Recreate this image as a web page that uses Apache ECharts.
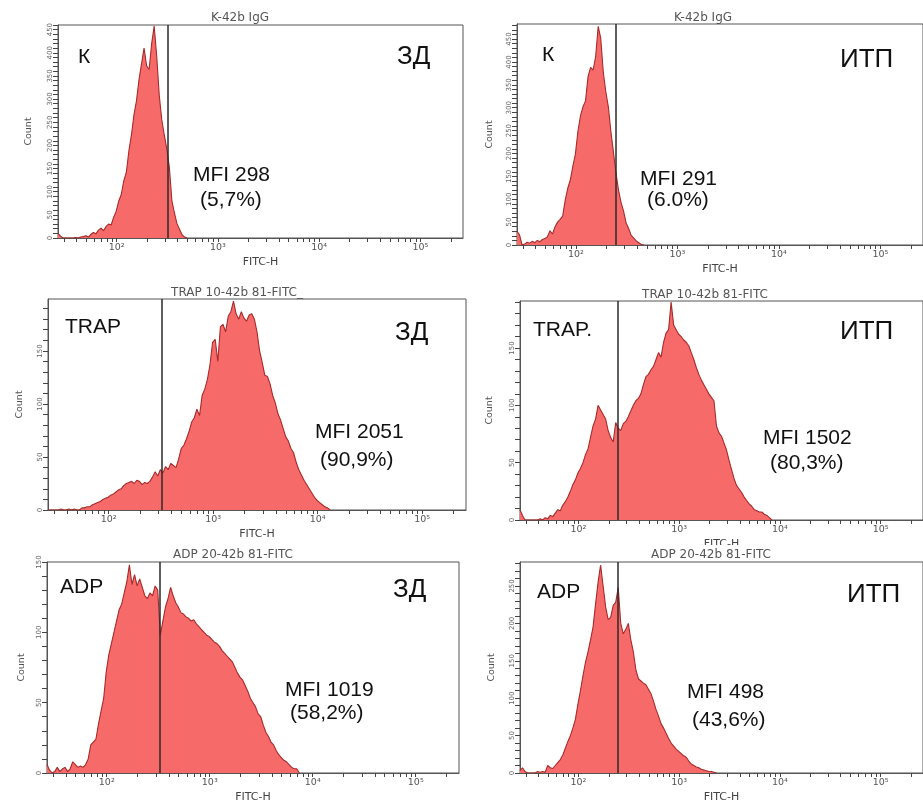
<!DOCTYPE html>
<html>
<head>
<meta charset="utf-8">
<title>FITC-H histograms</title>
<script src="https://cdn.jsdelivr.net/npm/echarts@6/dist/echarts.min.js"></script>
<style>
  html, body { margin: 0; padding: 0; background: #fff; }
  #chart { width: 923px; height: 804px; }
</style>
</head>
<body>
<div id="chart"></div>
<script>
// histogram bins: x = log10(FITC-H), first bin at binStart, step binStep
var binStart = 1.42;
var binStep = 0.025;
var xMin = 1.42, xMax = 5.42;

var countsK_ZD = [10, 4, 0, 0, 0, 0, 0, 1, 0, 2, 3, 5, 2, 8, 12, 9, 17, 21, 16, 25, 30, 28, 45, 58, 80, 94, 124, 142, 188, 222, 266, 296, 342, 376, 410, 372, 364, 420, 458, 392, 308, 255, 222, 192, 152, 80, 54, 31, 19, 7, 2, 0];
var countsK_ITP = [30, 22, 0, 2, 6, 4, 8, 5, 10, 7, 12, 14, 18, 31, 24, 40, 50, 56, 63, 98, 124, 142, 172, 198, 248, 282, 302, 315, 368, 388, 382, 412, 478, 452, 378, 335, 302, 248, 203, 158, 120, 93, 74, 48, 36, 21, 15, 9, 5, 1, 0];
var countsTRAP_ZD = [0, 0, 0, 0, 0, 1, 0, 0, 1, 0, 1, 0, 0, 2, 2, 3, 3, 5, 6, 7, 8, 10, 11, 12, 14, 15, 17, 19, 20, 23, 25, 26, 27, 25, 28, 27, 24, 26, 25, 27, 31, 36, 32, 38, 35, 41, 38, 44, 42, 40, 48, 58, 61, 67, 74, 83, 87, 95, 89, 108, 114, 123, 137, 158, 161, 140, 173, 175, 168, 183, 187, 197, 185, 180, 187, 181, 178, 184, 185, 180, 168, 150, 139, 127, 126, 119, 108, 101, 91, 85, 77, 69, 65, 58, 54, 45, 38, 33, 28, 24, 20, 16, 12, 9, 7, 5, 3, 2, 0];
var countsTRAP_ITP = [9, 4, 0, 0, 0, 0, 0, 0, 1, 0, 2, 1, 4, 3, 6, 9, 8, 13, 16, 20, 25, 31, 35, 41, 45, 50, 57, 62, 72, 82, 88, 100, 96, 92, 88, 78, 72, 68, 85, 80, 78, 84, 86, 90, 95, 100, 104, 106, 110, 118, 125, 127, 131, 134, 140, 146, 142, 155, 163, 166, 190, 170, 166, 162, 160, 157, 155, 152, 146, 140, 133, 127, 122, 118, 114, 110, 107, 104, 82, 76, 73, 67, 61, 52, 44, 36, 30, 27, 24, 20, 17, 14, 12, 9, 8, 7, 7, 5, 4, 2, 0];
var countsADP_ZD = [6, 2, 0, 1, 4, 1, 3, 4, 1, 3, 8, 6, 4, 5, 4, 6, 10, 20, 22, 24, 35, 44, 53, 72, 84, 92, 100, 108, 116, 120, 128, 136, 148, 134, 141, 133, 138, 132, 126, 124, 128, 126, 133, 130, 98, 108, 118, 124, 132, 126, 121, 118, 114, 113, 111, 110, 108, 109, 106, 104, 102, 100, 98, 97, 95, 93, 92, 90, 87, 85, 83, 81, 79, 75, 71, 68, 66, 62, 58, 53, 50, 47, 42, 40, 34, 29, 26, 22, 20, 16, 13, 11, 9, 8, 6, 4, 3, 3, 0];
var countsADP_ITP = [3, 7, 2, 0, 0, 0, 0, 2, 1, 2, 1, 10, 7, 6, 10, 14, 18, 24, 33, 42, 50, 60, 72, 92, 110, 130, 148, 162, 178, 195, 226, 255, 278, 250, 222, 205, 208, 224, 228, 248, 200, 186, 192, 200, 178, 162, 138, 126, 123, 120, 118, 112, 106, 96, 85, 76, 66, 60, 53, 46, 40, 36, 32, 29, 26, 23, 21, 16, 12, 10, 8, 7, 5, 4, 3, 2, 2, 1, 0];

// gate (marker) position, FITC-H units
var gates = [319, 247, 322, 244, 320, 246];

var panelTitles = ["K-42b IgG", "K-42b IgG", "TRAP 10-42b 81-FITC_", "TRAP 10-42b 81-FITC", "ADP 20-42b 81-FITC", "ADP 20-42b 81-FITC"];
var stimLabels = ["К", "К", "TRAP", "TRAP.", "ADP", "ADP"];
var groupLabels = ["ЗД", "ИТП", "ЗД", "ИТП", "ЗД", "ИТП"];
var mfiLabels = ["MFI 298", "MFI 291", "MFI 2051", "MFI 1502", "MFI 1019", "MFI 498"];
var pctLabels = ["(5,7%)", "(6.0%)", "(90,9%)", "(80,3%)", "(58,2%)", "(43,6%)"];

var yMax = [460, 483, 199, 191, 150, 282];
var yLabels = [
  [0, 50, 100, 150, 200, 250, 300, 350, 400, 450],
  [0, 50, 100, 150, 200, 250, 300, 350, 400, 450],
  [0, 50, 100, 150],
  [0, 50, 100, 150],
  [0, 50, 100, 150],
  [0, 50, 100, 150, 200, 250]
];
var xDecades = [2, 3, 4, 5];
var xTickMult = [1, 2, 3, 4, 5, 6, 7, 8, 9];

var allCounts = [countsK_ZD, countsK_ITP, countsTRAP_ZD, countsTRAP_ITP, countsADP_ZD, countsADP_ITP];

// layout of the six panels (pixels)
var panels = [
  { left: 58, top: 25, width: 405, height: 213, title: [240, 18], stim: [78, 57], group: [397, 57], mfi: [193, 175], pct: [200, 200], countGap: 24 },
  { left: 517, top: 24, width: 410, height: 221, title: [703, 18], stim: [542, 55], group: [840, 60], mfi: [640, 179], pct: [647, 200], countGap: 22 },
  { left: 48, top: 299, width: 418, height: 211, title: [237, 293], stim: [65, 327], group: [395, 333], mfi: [315, 432], pct: [320, 460], countGap: 23 },
  { left: 520, top: 301, width: 409, height: 219, title: [705, 295], stim: [533, 330], group: [840, 332], mfi: [763, 438], pct: [770, 463], countGap: 25 },
  { left: 47, top: 562, width: 412, height: 212, title: [233, 555], stim: [60, 587], group: [393, 590], mfi: [285, 690], pct: [290, 713], countGap: 20 },
  { left: 520, top: 562, width: 416, height: 213, title: [711, 555], stim: [537, 592], group: [847, 595], mfi: [687, 692], pct: [692, 720], countGap: 23 }
];

var sup = { 2: "\u00b2", 3: "\u00b3", 4: "\u2074", 5: "\u2075" };

// log-spaced minor ticks
var xTicks = [];
for (var d = 1; d <= 5; d++) {
  xTickMult.forEach(function (m) {
    var v = Math.log10(m) + d;
    if (v >= xMin && v <= xMax) xTicks.push(v);
  });
}

var smallFont = "DejaVu Sans";
var bigFont = "Liberation Sans";

var grids = [], xAxes = [], yAxes = [], series = [], graphics = [];

panels.forEach(function (p, i) {
  grids.push({
    left: p.left, top: p.top, width: p.width, height: p.height,
    show: true, borderColor: "#555", borderWidth: 1, backgroundColor: "#fff"
  });

  xAxes.push({
    gridIndex: i, type: "value", min: xMin, max: xMax,
    name: "FITC-H", nameLocation: "middle", nameGap: 19,
    nameTextStyle: { fontFamily: smallFont, fontSize: 11, color: "#444" },
    axisLine: { show: true, lineStyle: { color: "#555", width: 1 } },
    axisTick: { show: true, length: 4, customValues: xTicks, lineStyle: { color: "#444" } },
    axisLabel: {
      show: true, customValues: xDecades, margin: 5,
      fontFamily: smallFont, fontSize: 9.5, color: "#555",
      formatter: function (v) { return "10" + sup[Math.round(v)]; }
    },
    splitLine: { show: false }
  });

  var yTicks = [];
  for (var t = 0; t <= yMax[i]; t += 10) yTicks.push(t);

  yAxes.push({
    gridIndex: i, type: "value", min: 0, max: yMax[i],
    name: "Count", nameLocation: "middle", nameGap: p.countGap,
    nameTextStyle: { fontFamily: smallFont, fontSize: 9.5, color: "#555" },
    axisLine: { show: true, lineStyle: { color: "#555", width: 1 } },
    axisTick: { show: true, length: 5, customValues: yTicks, lineStyle: { color: "#444" } },
    axisLabel: {
      show: true, customValues: yLabels[i], rotate: 90, margin: 4,
      fontFamily: smallFont, fontSize: 7, color: "#666"
    },
    splitLine: { show: false }
  });

  series.push({
    type: "line",
    xAxisIndex: i, yAxisIndex: i,
    data: allCounts[i].map(function (c, k) { return [+(binStart + k * binStep).toFixed(3), c]; }),
    showSymbol: false, symbol: "none",
    lineStyle: { color: "#a82a2a", width: 1.1 },
    areaStyle: { color: "#f66a6a", opacity: 1 },
    silent: true,
    markLine: {
      silent: true, symbol: ["none", "none"], label: { show: false },
      lineStyle: { color: "#2a2a2a", width: 1.5, type: "solid" },
      data: [{ xAxis: Math.log10(gates[i]) }]
    }
  });

  graphics.push(
    { type: "text", x: p.title[0], y: p.title[1], style: { text: panelTitles[i], fontFamily: smallFont, fontSize: 12, fill: "#555", align: "center", verticalAlign: "middle" } },
    { type: "text", x: p.stim[0], y: p.stim[1], style: { text: stimLabels[i], fontFamily: bigFont, fontSize: 21, fill: "#111", align: "left", verticalAlign: "middle" } },
    { type: "text", x: p.group[0], y: p.group[1], style: { text: groupLabels[i], fontFamily: bigFont, fontSize: 26, fill: "#111", align: "left", verticalAlign: "middle" } },
    { type: "text", x: p.mfi[0], y: p.mfi[1], style: { text: mfiLabels[i], fontFamily: bigFont, fontSize: 21, fill: "#111", align: "left", verticalAlign: "middle" } },
    { type: "text", x: p.pct[0], y: p.pct[1], style: { text: pctLabels[i], fontFamily: bigFont, fontSize: 21, fill: "#111", align: "left", verticalAlign: "middle" } }
  );
});

// lower right image overlaps the FITC-H caption above it
graphics.push({ type: "rect", z: 50, shape: { x: 680, y: 545, width: 90, height: 3 }, style: { fill: "#fff" } });

var chart = echarts.init(document.getElementById("chart"));
chart.setOption({
  animation: false,
  backgroundColor: "#fff",
  grid: grids,
  xAxis: xAxes,
  yAxis: yAxes,
  series: series,
  graphic: graphics
});
window.addEventListener("resize", function () { chart.resize(); });
</script>
</body>
</html>
